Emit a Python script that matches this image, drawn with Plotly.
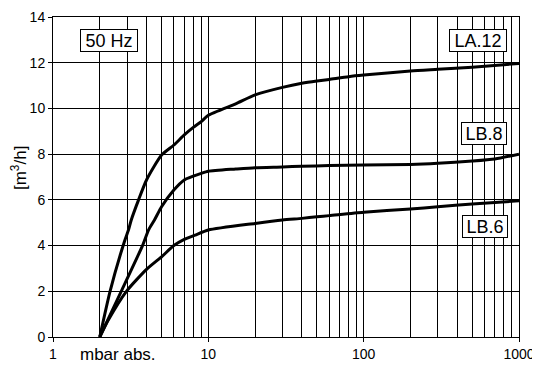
import plotly.graph_objects as go

# Data (x in mbar abs., y in m3/h)
la12_x = [2, 2.33, 2.88, 3.06, 3.19, 3.55, 4, 5, 6, 7, 8, 9, 10, 15, 20, 30, 40, 50, 60, 80, 100, 200, 300, 500, 1000]
la12_y = [0, 2.0, 4.17, 4.68, 5.12, 5.99, 6.87, 7.96, 8.4, 8.84, 9.17, 9.42, 9.7, 10.2, 10.59, 10.92, 11.1, 11.2, 11.27, 11.39, 11.46, 11.64, 11.71, 11.8, 11.97]

lb8_x = [2, 2.75, 3.77, 4.12, 4.5, 5, 6, 7, 8, 9, 10, 15, 20, 30, 40, 60, 100, 200, 300, 500, 700, 1000]
lb8_y = [0, 2.0, 4.0, 4.68, 5.12, 5.7, 6.43, 6.87, 7.04, 7.16, 7.25, 7.35, 7.41, 7.44, 7.47, 7.5, 7.53, 7.55, 7.6, 7.7, 7.79, 8.0]

lb6_x = [2, 2.27, 2.97, 4, 5, 6, 7, 8.22, 10, 20, 30, 40, 50, 60, 100, 200, 300, 500, 1000]
lb6_y = [0, 0.74, 2.0, 2.96, 3.51, 4.0, 4.27, 4.46, 4.68, 4.97, 5.12, 5.19, 5.26, 5.31, 5.46, 5.6, 5.7, 5.82, 5.96]

series_names = ["LA.12", "LB.8", "LB.6"]
y_ticks = [0, 2, 4, 6, 8, 10, 12, 14]
x_ticks = [1, 10, 100, 1000]
x_tick_text = ["1", "10", "100", "1000"]

FONT = "Liberation Sans, Arial, sans-serif"

fig = go.Figure()
for name, xs, ys in zip(series_names, [la12_x, lb8_x, lb6_x], [la12_y, lb8_y, lb6_y]):
    fig.add_trace(go.Scatter(x=xs, y=ys, mode="lines", name=name,
                             line=dict(color="black", width=3, shape="spline", smoothing=0.6),
                             showlegend=False))

# The page body adds an 8px offset, so the margins compensate for it.
fig.update_layout(
    width=540, height=365,
    margin=dict(l=45, r=29, t=9, b=36, autoexpand=False),
    paper_bgcolor="white", plot_bgcolor="white",
    font=dict(family=FONT, size=14, color="black"),
)

fig.update_xaxes(
    type="log", range=[0, 3], automargin=False,
    tickvals=x_ticks, ticktext=x_tick_text,
    ticks="outside", ticklen=4, tickcolor="black",
    showgrid=True, gridcolor="black", gridwidth=1,
    minor=dict(dtick="D1", showgrid=True, gridcolor="black", gridwidth=1, ticks=""),
    showline=True, linecolor="black", linewidth=1, mirror=True,
    zeroline=False,
)
fig.update_yaxes(
    range=[0, 14], tickvals=y_ticks, automargin=False,
    ticks="outside", ticklen=4, tickcolor="black",
    showgrid=True, gridcolor="black", gridwidth=1,
    showline=True, linecolor="black", linewidth=1, mirror=True,
    zeroline=False,
)

box = dict(showarrow=False, xref="paper", yref="paper", bordercolor="black",
           borderwidth=1, borderpad=1, bgcolor="white", height=19,
           xanchor="center", yanchor="middle",
           font=dict(family=FONT, size=18, color="black"))
fig.add_annotation(text="50 Hz", x=0.1202, y=0.9256, width=54, **box)
fig.add_annotation(text="LA.12", x=0.9110, y=0.928, width=54, **box)
fig.add_annotation(text="LB.8", x=0.9242, y=0.6353, width=42, **box)
fig.add_annotation(text="LB.6", x=0.9264, y=0.3459, width=42, **box)

fig.add_annotation(text="[m<sup>3</sup>/h]", textangle=-90, x=-0.073, y=0.528,
                   xref="paper", yref="paper", showarrow=False,
                   xanchor="center", yanchor="middle",
                   font=dict(family=FONT, size=17, color="black"))
fig.add_annotation(text="mbar abs.", x=0.139, y=-0.056, xref="paper", yref="paper",
                   showarrow=False, xanchor="center", yanchor="middle",
                   font=dict(family=FONT, size=17, color="black"))

fig.write_html("out.html")
